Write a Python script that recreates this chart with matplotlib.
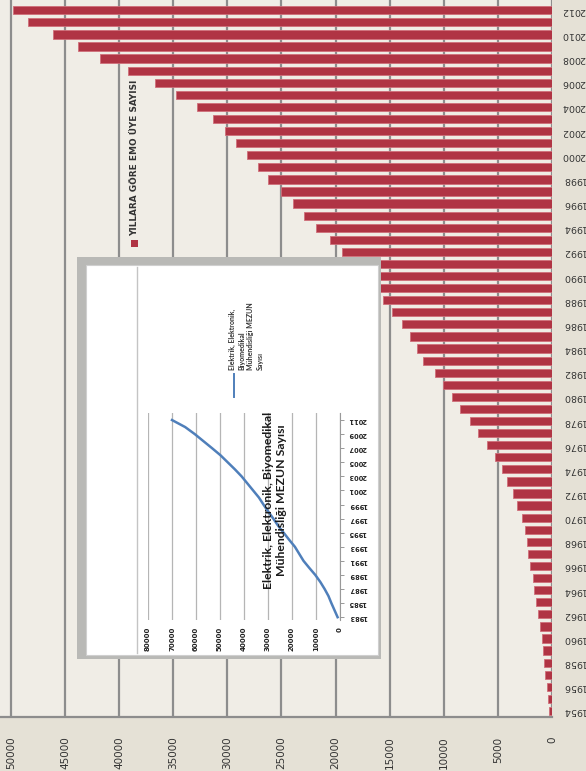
import matplotlib
matplotlib.use("Agg")
import matplotlib.pyplot as plt
from matplotlib.patches import Rectangle
from matplotlib.lines import Line2D

# ---- data ----
member_years = list(range(1954, 2013))
member_counts = [
    300, 400, 500, 650, 750, 850, 900, 1100, 1300, 1500,      # 1954-1963
    1650, 1750, 2000, 2200, 2300, 2500, 2800, 3200, 3600, 4200,  # 1964-1973
    4600, 5300, 6000, 6800, 7600, 8500, 9200, 10100, 10800, 11900,  # 1974-1983
    12500, 13100, 13900, 14800, 15600, 16600, 17600, 18500, 19400, 20500,  # 1984-1993
    21800, 22900, 23900, 25000, 26200, 27200, 28200, 29200, 30200, 31300,  # 1994-2003
    32800, 34700, 36700, 39200, 41800, 43800, 46100, 48400, 49800,  # 2004-2012
]
member_ticks = list(range(0, 50001, 5000))
member_year_ticks = list(range(1954, 2013, 2))
member_label = "YILLARA GÖRE EMO ÜYE SAYISI"

grad_years = list(range(1983, 2012))
grad_counts = [
    1000, 2300, 3600, 4800, 6400, 8200, 10300, 12800, 15200, 17000,
    18800, 21200, 23500, 25800, 27800, 29900, 31900, 33800, 36200, 38600,
    41000, 43800, 46800, 49800, 53300, 56900, 60500, 64500, 70000,
]
grad_ticks = list(range(0, 80001, 10000))
grad_year_ticks = list(range(1983, 2012, 2))
grad_title = "Elektrik, Elektronik, Biyomedikal\nMühendisliği MEZUN Sayısı"
grad_legend = "Elektrik, Elektronik,\nBiyomedikal\nMühendisliği MEZUN\nSayısı"

W, H = 586, 771
fig = plt.figure(figsize=(W / 100, H / 100), dpi=100)
fig.patch.set_facecolor("#e5e1d6")


def box(x0, y0, x1, y1):
    """Pixel box (top-left origin) -> figure-fraction rect."""
    return [x0 / W, 1 - y1 / H, (x1 - x0) / W, (y1 - y0) / H]


def frac(x, y):
    return x / W, 1 - y / H


# ---- main bar chart ----
ax = fig.add_axes(box(0, 0, 552, 717))
ax.set_facecolor("#f0ede6")
ax.barh(member_years, member_counts, height=0.68, color="#b03444",
        edgecolor="#cf6f7a", linewidth=0.6, zorder=3)
ax.set_xlim(51000, 0)
ax.set_ylim(1953.5, 2012.85)
ax.set_xticks(member_ticks)
ax.set_xticklabels([str(t) for t in member_ticks], rotation=90,
                   fontsize=7.5, color="#333333", va="top")
ax.set_yticks(member_year_ticks)
ax.set_yticklabels([str(y) for y in member_year_ticks], rotation=180,
                   fontsize=6.8, color="#333333", va="center")
ax.yaxis.tick_right()
ax.tick_params(axis="x", length=0, pad=14)
ax.tick_params(axis="y", length=0, pad=7)
ax.grid(axis="x", color="#8d8d8d", linewidth=1.6, zorder=1)
for side in ("top", "left", "right"):
    ax.spines[side].set_visible(False)
ax.spines["bottom"].set_color("#8d8d8d")
ax.spines["bottom"].set_linewidth(1.6)

# legend of the bar chart, turned on its side
fig.patches.append(Rectangle(frac(131, 247), 7 / W, 7 / H,
                             transform=fig.transFigure, facecolor="#b03444",
                             edgecolor="none"))
fig.text(*frac(135, 236), member_label, rotation=90, fontsize=6.4,
         fontweight="bold", color="#333333", ha="center", va="bottom")

# ---- inset line chart on a white card with a grey rim ----
fig.patches.append(Rectangle(frac(77, 659), 304 / W, 402 / H,
                             transform=fig.transFigure, facecolor="#b9b9b6",
                             edgecolor="none", zorder=4))
fig.patches.append(Rectangle(frac(86, 655), 292 / W, 390 / H,
                             transform=fig.transFigure, facecolor="white",
                             edgecolor="#cfcfcf", linewidth=0.8, zorder=5))
fig.lines.append(Line2D([137 / W, 137 / W], [1 - 267 / H, 1 - 653 / H],
                        transform=fig.transFigure, color="#c4c4c4",
                        linewidth=1.0, zorder=6))

ax2 = fig.add_axes(box(148, 413, 340, 620), zorder=6)
ax2.patch.set_alpha(0)
ax2.plot(grad_counts, grad_years, color="#4f7fba", linewidth=1.8, zorder=3)
ax2.set_xlim(80000, 0)
ax2.set_ylim(1982.6, 2012.0)
ax2.set_xticks(grad_ticks)
ax2.set_xticklabels([str(t) for t in grad_ticks], rotation=90, fontsize=5,
                    fontweight="bold", color="#222222", va="top")
ax2.set_yticks(grad_year_ticks)
ax2.set_yticklabels([str(y) for y in grad_year_ticks], rotation=180,
                    fontsize=4.8, fontweight="bold", color="#222222",
                    va="center")
ax2.yaxis.tick_right()
ax2.tick_params(axis="x", length=0, pad=5)
ax2.tick_params(axis="y", length=3, width=0.6, color="#888888", pad=3)
ax2.grid(axis="x", color="#b5b5b5", linewidth=0.9)
for side in ("top", "left", "bottom"):
    ax2.spines[side].set_visible(False)
ax2.spines["right"].set_color("#999999")

fig.text(*frac(275, 500), grad_title, rotation=90, fontsize=8.8,
         fontweight="bold", color="#1a1a1a", ha="center", va="center",
         linespacing=1.2, family="Lato", zorder=7)

fig.lines.append(Line2D([234 / W, 234 / W], [1 - 397 / H, 1 - 374 / H],
                        transform=fig.transFigure, color="#4f7fba",
                        linewidth=1.4, zorder=7))
fig.text(*frac(229, 370), grad_legend, rotation=90, fontsize=5,
         fontweight="bold", color="#333333", ha="left", va="bottom",
         multialignment="left", linespacing=1.35, family="Lato", zorder=7)

fig.savefig("out.png", dpi=100, facecolor=fig.get_facecolor())
